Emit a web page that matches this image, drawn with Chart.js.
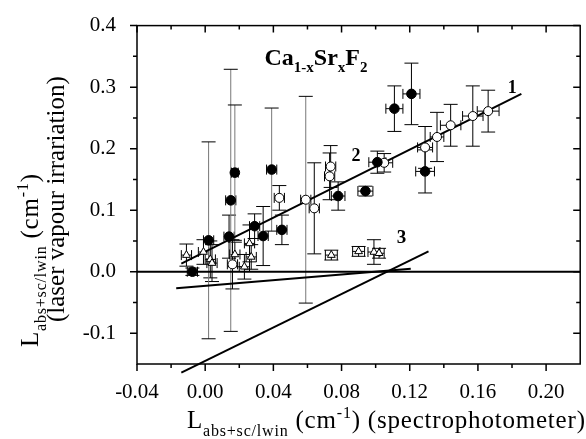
<!DOCTYPE html>
<html>
<head>
<meta charset="utf-8">
<script src="https://cdn.jsdelivr.net/npm/chart.js@4.4.0/dist/chart.umd.min.js"></script>
<style>
  html, body { margin: 0; padding: 0; background: #fff; }
  #wrap { width: 586px; height: 439px; }
</style>
</head>
<body>
<div id="wrap"><canvas id="chart"></canvas></div>
<script>
const xTicks = [-0.04, 0.00, 0.04, 0.08, 0.12, 0.16, 0.20];
const yTicks = [-0.1, 0.0, 0.1, 0.2, 0.3, 0.4];

// filled circles
const filledX    = [-0.0075, 0.002, 0.014, 0.015, 0.0174, 0.029, 0.034, 0.039, 0.045, 0.078, 0.094, 0.101, 0.111, 0.121, 0.129];
const filledY    = [0.000, 0.051, 0.057, 0.116, 0.161, 0.074, 0.058, 0.166, 0.068, 0.123, 0.131, 0.178, 0.265, 0.289, 0.163];
const filledXErr = [0.003, 0.003, 0.003, 0.003, 0.002, 0.003, 0.003, 0.003, 0.003, 0.004, 0.0044, 0.005, 0.005, 0.005, 0.0055];
const filledYErr = [0.006, 0.160, 0.035, 0.213, 0.110, 0.020, 0.048, 0.100, 0.024, 0.023, 0.008, 0.018, 0.037, 0.050, 0.035];

// open circles
const openX    = [0.016, 0.0435, 0.059, 0.064, 0.073, 0.0736, 0.105, 0.129, 0.136, 0.144, 0.157, 0.166];
const openY    = [0.012, 0.120, 0.117, 0.103, 0.155, 0.171, 0.177, 0.202, 0.219, 0.238, 0.253, 0.261];
const openXErr = [0.003, 0.003, 0.003, 0.003, 0.003, 0.003, 0.005, 0.0044, 0.004, 0.006, 0.006, 0.0064];
const openYErr = [0.040, 0.020, 0.168, 0.074, 0.038, 0.034, 0.015, 0.034, 0.040, 0.034, 0.049, 0.034];

// open triangles
const triX    = [-0.011, -0.001, 0.003, 0.004, 0.0174, 0.023, 0.026, 0.027, 0.074, 0.090, 0.099, 0.102];
const triY    = [0.027, 0.032, 0.020, 0.014, 0.028, 0.008, 0.046, 0.024, 0.027, 0.033, 0.032, 0.030];
const triXErr = [0.003, 0.003, 0.003, 0.003, 0.003, 0.003, 0.003, 0.003, 0.0035, 0.0035, 0.0035, 0.003];
const triYErr = [0.018, 0.020, 0.030, 0.030, 0.020, 0.020, 0.030, 0.020, 0.008, 0.008, 0.020, 0.008];

// fitted lines (end points)
const line1X = [-0.014, 0.1855], line1Y = [0.013, 0.289];
const line2X = [-0.017, 0.1206], line2Y = [-0.027, 0.005];
const line3X = [-0.014, 0.131],  line3Y = [-0.164, 0.033];
const zeroX  = [-0.04, 0.22],    zeroY  = [0, 0];

const SERIF = "'Liberation Serif', 'Times New Roman', serif";
Chart.defaults.font.family = SERIF;
Chart.defaults.color = '#000';

const pts = (xs, ys) => xs.map((x, i) => ({ x, y: ys[i] }));

function lineSet(xs, ys, clip) {
  return {
    type: 'line',
    data: pts(xs, ys),
    borderColor: '#000',
    borderWidth: 2,
    pointRadius: 0,
    fill: false,
    clip: clip
  };
}

// draws text pieces with sub/superscripts starting at (x, y) baseline
function drawRich(ctx, parts, x, y, size, bold, spacing) {
  let cx = x;
  ctx.letterSpacing = (spacing || 0) + 'px';
  parts.forEach(p => {
    const s = p.sub || p.sup ? Math.round(size * 0.64) : size;
    ctx.font = (bold ? 'bold ' : '') + s + 'px ' + SERIF;
    const dy = p.sub ? size * 0.3 : (p.sup ? -size * 0.42 : 0);
    ctx.fillText(p.t, cx, y + dy);
    cx += ctx.measureText(p.t).width;
  });
  ctx.letterSpacing = '0px';
}

const errorBars = {
  id: 'errorBars',
  beforeDatasetsDraw(chart) {
    const { ctx, scales: { x, y } } = chart;
    ctx.save();
    ctx.lineWidth = 1;
    chart.data.datasets.forEach(ds => {
      if (!ds.errX) return;
      ds.data.forEach((p, i) => {
        const px = x.getPixelForValue(p.x), py = y.getPixelForValue(p.y);
        const top = y.getPixelForValue(p.y + ds.errY[i]);
        const bot = y.getPixelForValue(p.y - ds.errY[i]);
        const l = x.getPixelForValue(p.x - ds.errX[i]);
        const r = x.getPixelForValue(p.x + ds.errX[i]);
        ctx.strokeStyle = ds.errY[i] > 0.09 ? '#777' : '#000';
        ctx.beginPath();
        ctx.moveTo(px, top); ctx.lineTo(px, bot);
        ctx.stroke();
        ctx.strokeStyle = '#000';
        ctx.beginPath();
        ctx.moveTo(px - 7, top); ctx.lineTo(px + 7, top);
        ctx.moveTo(px - 7, bot); ctx.lineTo(px + 7, bot);
        ctx.moveTo(l, py); ctx.lineTo(r, py);
        ctx.moveTo(l, py - 5); ctx.lineTo(l, py + 5);
        ctx.moveTo(r, py - 5); ctx.lineTo(r, py + 5);
        ctx.stroke();
      });
    });
    ctx.restore();
  }
};

const frame = {
  id: 'frame',
  afterDraw(chart) {
    const { ctx, chartArea: a, scales: { x, y } } = chart;
    ctx.save();
    ctx.strokeStyle = '#000';
    ctx.lineWidth = 1.5;
    ctx.strokeRect(a.left, a.top, a.right - a.left, a.bottom - a.top);
    ctx.beginPath();
    xTicks.forEach(v => {
      const px = x.getPixelForValue(v);
      ctx.moveTo(px, a.bottom); ctx.lineTo(px, a.bottom + 7);
      ctx.moveTo(px, a.top); ctx.lineTo(px, a.top + 7);
      const m = x.getPixelForValue(v + 0.02);
      if (m < a.right - 2) {
        ctx.moveTo(m, a.bottom); ctx.lineTo(m, a.bottom + 4);
        ctx.moveTo(m, a.top); ctx.lineTo(m, a.top + 4);
      }
    });
    [-0.15].concat(yTicks).forEach(v => {
      const py = y.getPixelForValue(v);
      if (v > -0.12) {
        ctx.moveTo(a.left - 7, py); ctx.lineTo(a.left, py);
        ctx.moveTo(a.right - 7, py); ctx.lineTo(a.right, py);
      }
      const m = y.getPixelForValue(v + 0.05);
      if (m > a.top + 2) {
        ctx.moveTo(a.left - 4, m); ctx.lineTo(a.left, m);
        ctx.moveTo(a.right - 4, m); ctx.lineTo(a.right, m);
      }
    });
    ctx.stroke();

    // axis titles
    ctx.fillStyle = '#000';
    ctx.textBaseline = 'alphabetic';
    drawRich(ctx, [{ t: 'L' }, { t: 'abs+sc/lwin', sub: true }, { t: ' (cm' }, { t: '-1', sup: true }, { t: ') (spectrophotometer)' }], 187, 428, 25, false, 0.8);
    ctx.save();
    ctx.translate(38, 347);
    ctx.rotate(-Math.PI / 2);
    drawRich(ctx, [{ t: 'L' }, { t: 'abs+sc/lwin', sub: true }, { t: ' (cm' }, { t: '-1', sup: true }, { t: ')' }], 0, 0, 25, false, 0.8);
    ctx.restore();
    ctx.save();
    ctx.translate(64, 322);
    ctx.rotate(-Math.PI / 2);
    drawRich(ctx, [{ t: '(laser vapour irrariation)' }], 0, 0, 25);
    ctx.restore();

    // annotations
    const ax = v => x.getPixelForValue(v), ay = v => y.getPixelForValue(v);
    drawRich(ctx, [{ t: 'Ca' }, { t: '1-x', sub: true }, { t: 'Sr' }, { t: 'x', sub: true }, { t: 'F' }, { t: '2', sub: true }], ax(0.0348), ay(0.336), 24, true);
    drawRich(ctx, [{ t: '1' }], ax(0.1775), ay(0.29), 18, true);
    drawRich(ctx, [{ t: '2' }], ax(0.0858), ay(0.18), 18, true);
    drawRich(ctx, [{ t: '3' }], ax(0.1124), ay(0.046), 19, true);
    ctx.restore();
  }
};

new Chart(document.getElementById('chart'), {
  type: 'scatter',
  data: {
    datasets: [
      lineSet(zeroX, zeroY, true),
      lineSet(line2X, line2Y, true),
      lineSet(line3X, line3Y, false),
      {
        data: pts(triX, triY), errX: triXErr, errY: triYErr,
        pointStyle: 'triangle', pointRadius: 4.5, borderWidth: 1,
        borderColor: '#000', backgroundColor: '#fff'
      },
      {
        data: pts(filledX, filledY), errX: filledXErr, errY: filledYErr,
        pointStyle: 'circle', pointRadius: 4.8, borderWidth: 1,
        borderColor: '#000', backgroundColor: '#000'
      },
      {
        data: pts(openX, openY), errX: openXErr, errY: openYErr,
        pointStyle: 'circle', pointRadius: 4.5, borderWidth: 1,
        borderColor: '#000', backgroundColor: '#fff'
      },
      lineSet(line1X, line1Y, true)
    ]
  },
  options: {
    responsive: true,
    maintainAspectRatio: false,
    animation: false,
    layout: { padding: { top: 16, right: 1, left: 0, bottom: 0 } },
    plugins: { legend: { display: false }, tooltip: { enabled: false } },
    scales: {
      x: {
        type: 'linear', min: -0.04, max: 0.22,
        grid: { display: false }, border: { display: false },
        afterBuildTicks: s => { s.ticks = xTicks.map(v => ({ value: v })); },
        afterFit: s => { s.height = 75; },
        ticks: { padding: 8, maxRotation: 0, font: { size: 21 }, callback: v => v.toFixed(2) }
      },
      y: {
        type: 'linear', min: -0.15, max: 0.4,
        grid: { display: false }, border: { display: false },
        afterBuildTicks: s => { s.ticks = yTicks.map(v => ({ value: v })); },
        afterFit: s => { s.width = 137; },
        ticks: { padding: 13, font: { size: 21 }, callback: v => v.toFixed(1) }
      }
    }
  },
  plugins: [errorBars, frame]
});
</script>
</body>
</html>
